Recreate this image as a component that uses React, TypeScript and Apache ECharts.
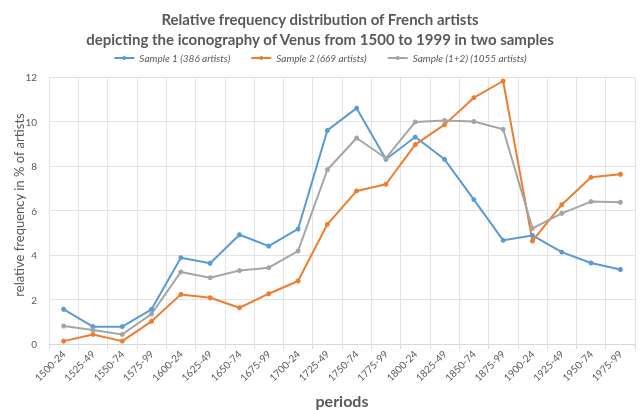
import { useEffect, useRef } from 'react'
import * as echarts from 'echarts'

const periods = [
  '1500-24', '1525-49', '1550-74', '1575-99', '1600-24', '1625-49', '1650-74', '1675-99',
  '1700-24', '1725-49', '1750-74', '1775-99', '1800-24', '1825-49', '1850-74', '1875-99',
  '1900-24', '1925-49', '1950-74', '1975-99',
]

const sample1 = [1.56, 0.78, 0.78, 1.56, 3.88, 3.63, 4.91, 4.4, 5.17, 9.6, 10.6, 8.3, 9.3, 8.3, 6.49, 4.66, 4.88, 4.13, 3.64, 3.35]
const sample2 = [0.13, 0.43, 0.13, 1.02, 2.23, 2.08, 1.63, 2.26, 2.83, 5.38, 6.88, 7.18, 8.96, 9.86, 11.07, 11.82, 4.63, 6.26, 7.49, 7.63]
const sampleAll = [0.81, 0.63, 0.43, 1.35, 3.24, 2.98, 3.3, 3.43, 4.18, 7.83, 9.26, 8.35, 9.98, 10.05, 10.0, 9.65, 5.2, 5.87, 6.4, 6.37]

const seriesNames = ['Sample 1 (386 artists)', 'Sample 2 (669 artists)', 'Sample (1+2) (1055 artists)']
const colors = ['#5b9bd5', '#ed7d31', '#a5a5a5']

const FONT = 'Lato, "Open Sans", sans-serif'
const TEXT = '#595959'

export default function App() {
  const chartRef = useRef<HTMLDivElement>(null)

  useEffect(() => {
    if (!chartRef.current) return
    const chart = echarts.init(chartRef.current, undefined, { renderer: 'svg' })

    const mk = (name: string, data: number[], color: string) => ({
      name,
      type: 'line',
      data,
      symbol: 'circle',
      symbolSize: 5,
      lineStyle: { color, width: 2 },
      itemStyle: { color },
    })

    const option: echarts.EChartsOption = {
      animation: false,
      textStyle: { fontFamily: FONT },
      title: {
        text: 'Relative frequency distribution of French artists\ndepicting the iconography of Venus from 1500 to 1999 in two samples',
        left: 'center',
        top: 4,
        textStyle: { fontFamily: FONT, fontSize: 15, fontWeight: 'bold', color: TEXT, lineHeight: 20 },
      },
      legend: {
        top: 48,
        left: 'center',
        itemWidth: 20,
        itemHeight: 5,
        itemGap: 20,
        textStyle: { fontFamily: FONT, fontSize: 10, fontStyle: 'italic', color: TEXT },
        data: seriesNames,
      },
      grid: { left: 49, right: 5, top: 77, bottom: 66, containLabel: false, outerBoundsMode: 'none' } as any,
      xAxis: {
        type: 'category',
        data: periods,
        boundaryGap: true,
        name: 'periods',
        nameLocation: 'middle',
        nameGap: 48,
        nameMoveOverlap: false,
        nameTextStyle: { fontFamily: FONT, fontSize: 16, fontWeight: 'bold', color: TEXT },
        axisLine: { lineStyle: { color: '#d9d9d9' } },
        axisTick: { show: true, length: 5, lineStyle: { color: '#d9d9d9' } },
        axisLabel: { rotate: 45, fontSize: 10, color: TEXT, margin: 8, interval: 0 },
        splitLine: { show: true, lineStyle: { color: '#e3e3e3' } },
      } as any,
      yAxis: {
        type: 'value',
        min: 0,
        max: 12,
        interval: 2,
        name: 'relative frequency in % of artists',
        nameLocation: 'middle',
        nameGap: 24,
        nameMoveOverlap: false,
        nameTextStyle: { fontFamily: FONT, fontSize: 13, color: TEXT, padding: [0, 0, 0, 11] },
        axisLine: { show: false },
        axisTick: { show: false },
        axisLabel: { fontSize: 10, color: TEXT, margin: 12 },
        splitLine: { lineStyle: { color: '#e3e3e3' } },
      } as any,
      series: [
        mk(seriesNames[0], sample1, colors[0]),
        mk(seriesNames[1], sample2, colors[1]),
        mk(seriesNames[2], sampleAll, colors[2]),
      ] as any,
    }

    chart.setOption(option)
    return () => {
      chart.dispose()
    }
  }, [])

  return <div ref={chartRef} style={{ position: 'fixed', left: 0, top: 0, width: 640, height: 410 }} />
}
